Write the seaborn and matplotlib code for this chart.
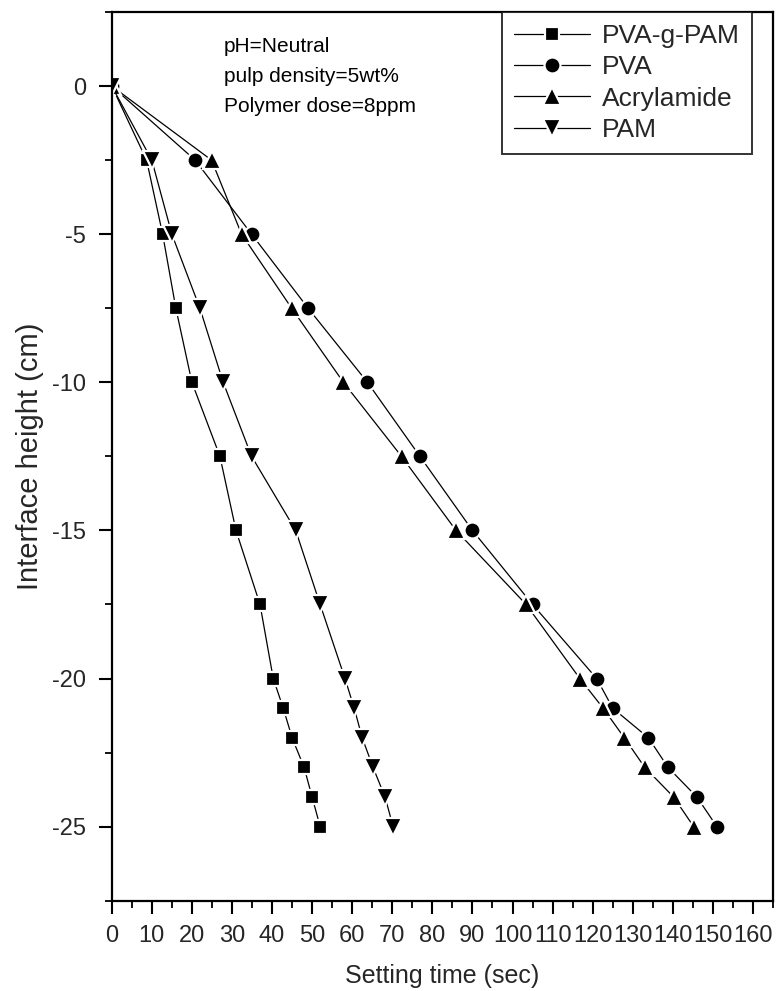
import numpy as np
import pandas as pd
import matplotlib
matplotlib.use("Agg")
import matplotlib.pyplot as plt
import seaborn as sns
from matplotlib.ticker import MultipleLocator

# Data
heights = [0, -2.5, -5, -7.5, -10, -12.5, -15, -17.5, -20, -21, -22, -23, -24, -25]
pva_g_pam = [0, 8.7, 12.7, 16.0, 20.0, 27.0, 31.0, 37.0, 40.3, 42.8, 45.0, 48.0, 50.0, 52.0]
pva = [0, 20.8, 34.9, 49.0, 63.8, 76.9, 90.0, 105.0, 121.0, 125.0, 133.9, 138.8, 146.0, 151.0]
acrylamide = [0, 24.9, 32.4, 44.9, 57.8, 72.3, 85.9, 103.4, 116.8, 122.6, 127.9, 133.0, 140.2, 145.2]
pam = [0, 10.0, 15.0, 22.0, 27.8, 34.9, 45.9, 52.0, 58.2, 60.5, 62.5, 65.2, 68.2, 70.2]

series_names = ["PVA-g-PAM", "PVA", "Acrylamide", "PAM"]
x_ticks = list(range(0, 161, 10))
y_ticks = [0, -5, -10, -15, -20, -25]
annotation_lines = ["pH=Neutral", "pulp density=5wt%", "Polymer dose=8ppm"]

sns.set_style("ticks")
plt.rcParams["font.family"] = ["Liberation Sans", "DejaVu Sans"]

fig = plt.figure(figsize=(7.77, 9.91), dpi=100)
ax = fig.add_axes([0.1438, 0.0911, 0.8511, 0.8968])

series = {
    "PVA-g-PAM": (pva_g_pam, "s", 10.0),
    "PVA": (pva, "o", 11.5),
    "Acrylamide": (acrylamide, "^", 13.0),
    "PAM": (pam, "v", 13.0),
}

for name in series_names:
    xs, mk, ms = series[name]
    df = pd.DataFrame({"time": xs, "height": heights})
    sns.lineplot(data=df, x="time", y="height", ax=ax, color="black",
                 marker=mk, markersize=ms, markeredgecolor="white",
                 markeredgewidth=1.6, linewidth=0.9, sort=False,
                 estimator=None, label=name)

ax.set_xlim(0, 165)
ax.set_ylim(-27.5, 2.5)
ax.set_xticks(x_ticks)
ax.set_xticklabels([str(t) for t in x_ticks])
ax.set_yticks(y_ticks)
ax.set_yticklabels([str(t) for t in y_ticks])
ax.xaxis.set_minor_locator(MultipleLocator(5))
ax.yaxis.set_minor_locator(MultipleLocator(2.5))
ax.tick_params(axis="both", which="major", direction="out", length=9.5,
               width=1.5, labelsize=17, color="black")
ax.tick_params(axis="x", which="major", pad=8)
ax.tick_params(axis="y", which="major", pad=9)
ax.tick_params(axis="both", which="minor", direction="out", length=5,
               width=1.3, color="black")
ax.tick_params(top=False, right=False)
for sp in ax.spines.values():
    sp.set_visible(True)
    sp.set_linewidth(1.6)
    sp.set_color("black")

ax.set_xlabel("Setting time (sec)", fontsize=18, labelpad=12)
ax.set_ylabel("Interface height (cm)", fontsize=21, labelpad=6)

for i, line in enumerate(annotation_lines):
    ax.text(0.170, 0.972 - i * 0.0337, line, transform=ax.transAxes,
            fontsize=15, ha="left", va="top", color="black")

handles, labels = ax.get_legend_handles_labels()
leg = ax.legend(handles, labels, loc="upper right", bbox_to_anchor=(0.968, 1.0),
                borderaxespad=0, fontsize=19, frameon=True, fancybox=False,
                edgecolor="black", handlelength=2.9, handletextpad=0.45,
                labelspacing=0.28, borderpad=0.45)
leg.get_frame().set_linewidth(1.4)

fig.savefig("out.png", dpi=100)
